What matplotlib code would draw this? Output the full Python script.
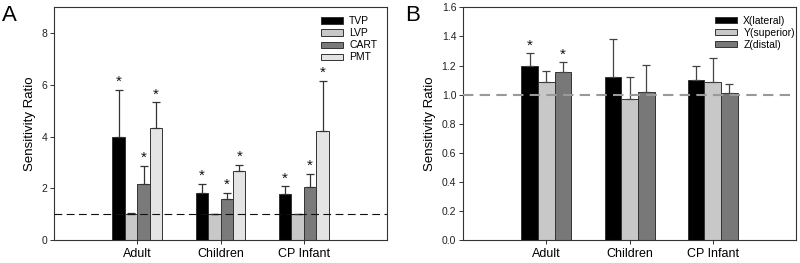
import numpy as np
import matplotlib
matplotlib.use("Agg")
import matplotlib.pyplot as plt

categories = ["Adult", "Children", "CP Infant"]

# Panel A
a_series = ["TVP", "LVP", "CART", "PMT"]
a_values = {
    "TVP": [3.97, 1.83, 1.77],
    "LVP": [1.02, 1.00, 1.00],
    "CART": [2.17, 1.58, 2.04],
    "PMT": [4.34, 2.66, 4.21],
}
a_err_top = {
    "TVP": [5.81, 2.17, 2.08],
    "LVP": [1.04, 1.00, 1.02],
    "CART": [2.87, 1.83, 2.56],
    "PMT": [5.32, 2.92, 6.16],
}
a_star = {
    "TVP": [True, True, True],
    "LVP": [False, False, False],
    "CART": [True, True, True],
    "PMT": [True, True, True],
}
a_colors = ["#000000", "#c8c8c8", "#7a7a7a", "#e4e4e4"]
a_yticks = [0, 2, 4, 6, 8]

# Panel B
b_series = ["X(lateral)", "Y(superior)", "Z(distal)"]
b_values = {
    "X(lateral)": [1.197, 1.119, 1.100],
    "Y(superior)": [1.089, 0.967, 1.089],
    "Z(distal)": [1.153, 1.020, 1.011],
}
b_err_top = {
    "X(lateral)": [1.284, 1.380, 1.199],
    "Y(superior)": [1.164, 1.119, 1.254],
    "Z(distal)": [1.222, 1.201, 1.070],
}
b_star = {
    "X(lateral)": [True, False, False],
    "Y(superior)": [False, False, False],
    "Z(distal)": [True, False, False],
}
b_colors = ["#000000", "#c8c8c8", "#787878"]
b_yticks = [0.0, 0.2, 0.4, 0.6, 0.8, 1.0, 1.2, 1.4, 1.6]

plt.rcParams['font.family'] = ['Liberation Sans', 'DejaVu Sans']

fig = plt.figure(figsize=(8, 2.63), dpi=100)
axA = fig.add_axes([0.0675, 0.0875, 0.4163, 0.8845])
axB = fig.add_axes([0.579, 0.0875, 0.416, 0.8845])


def draw(ax, series, values, err_top, stars, colors, ylim, yticks, ytickfmt,
         dash_color, dash_lw, dash_pat, leg_anchor, err_color):
    n = len(series)
    width = 0.6 / n
    x = np.arange(len(categories))
    for i, s in enumerate(series):
        pos = x - 0.3 + width * (i + 0.5)
        v = np.array(values[s])
        e = np.array(err_top[s]) - v
        ax.bar(pos, v, width, color=colors[i], edgecolor="#333333",
               linewidth=0.7, label=s, zorder=2)
        ax.errorbar(pos, v, yerr=[np.zeros_like(e), e], fmt="none",
                    ecolor=err_color, elinewidth=0.9, capsize=3,
                    capthick=0.9, zorder=2.5)
        for j in range(len(categories)):
            if stars[s][j]:
                ax.annotate("*", (pos[j], err_top[s][j]), xytext=(0, 0.5),
                            textcoords="offset points", ha="center",
                            va="bottom", fontsize=11, color="#111111")
    ax.axhline(1.0, color=dash_color, lw=dash_lw, dashes=dash_pat, zorder=3)
    ax.set_xlim(-1, 3)
    ax.set_ylim(*ylim)
    ax.set_xticks(x)
    ax.set_xticklabels(categories, fontsize=9)
    ax.set_yticks(yticks)
    ax.set_yticklabels([ytickfmt.format(t) for t in yticks], fontsize=7.5,
                       color="#222222")
    ax.tick_params(axis="both", direction="out", length=3, width=0.7,
                   color="#333333", pad=2)
    ax.tick_params(axis="x", pad=3)
    for sp in ax.spines.values():
        sp.set_linewidth(0.8)
        sp.set_color("#333333")
    ax.set_ylabel("Sensitivity Ratio", fontsize=9.5, labelpad=4)
    ax.legend(loc="upper left", bbox_to_anchor=leg_anchor, frameon=False,
              fontsize=7.5, handlelength=2.1, handleheight=0.55,
              labelspacing=0.2, borderpad=0, borderaxespad=0,
              handletextpad=0.6)


draw(axA, a_series, a_values, a_err_top, a_star, a_colors, (0, 9), a_yticks,
     "{:d}", "#111111", 0.8, (7, 4), (0.802, 0.962), "#333333")
draw(axB, b_series, b_values, b_err_top, b_star, b_colors, (0, 1.6), b_yticks,
     "{:.1f}", "#999999", 1.5, (5, 3), (0.757, 0.965), "#444444")

fig.text(0.002, 0.98, "A", fontsize=16, va="top", ha="left")
fig.text(0.506, 0.98, "B", fontsize=16, va="top", ha="left")

fig.savefig("out.png", dpi=100)
